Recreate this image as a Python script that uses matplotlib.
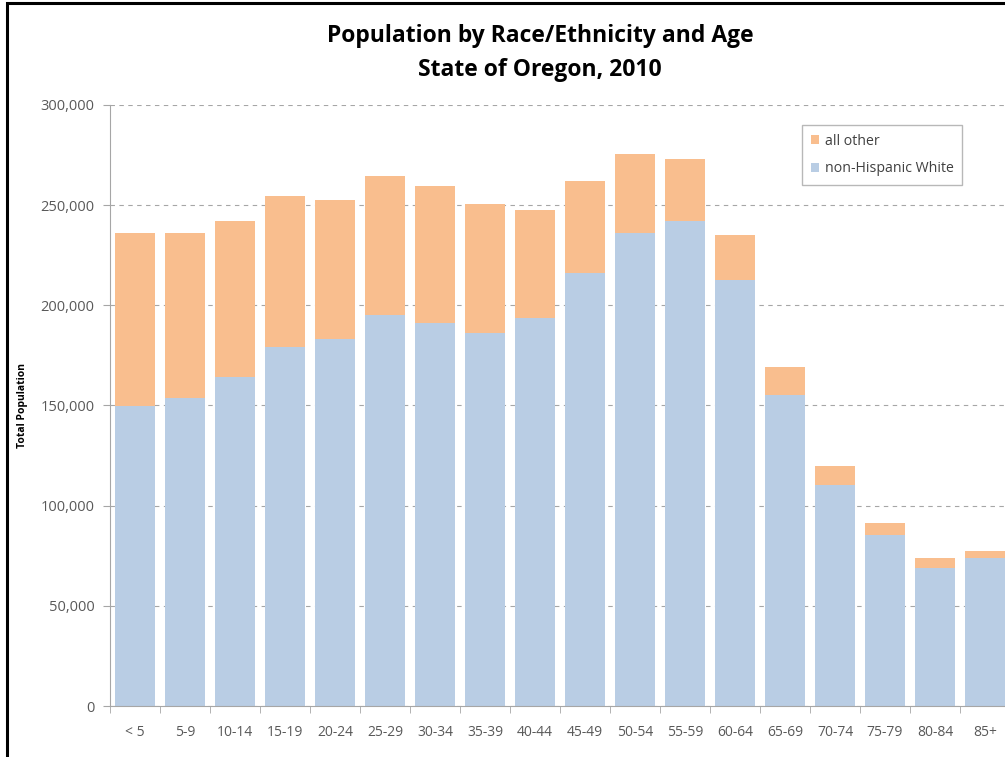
import matplotlib.pyplot as plt
from matplotlib.patches import Rectangle
from matplotlib.ticker import FuncFormatter

# Oregon 2010 population by age group
age_groups = ['< 5', '5-9', '10-14', '15-19', '20-24', '25-29', '30-34', '35-39', '40-44',
              '45-49', '50-54', '55-59', '60-64', '65-69', '70-74', '75-79', '80-84', '85+']
nh_white = [149800, 153700, 164200, 179200, 183200, 195200, 191200, 186200, 193700,
            216100, 236100, 242100, 212600, 155200, 110300, 85400, 68900, 73900]
total = [236100, 236100, 242100, 254600, 252600, 264600, 259600, 250600, 247600,
         262100, 275500, 273000, 235100, 169200, 119800, 91300, 73900, 77400]
all_other = [t - w for t, w in zip(total, nh_white)]

orange = '#F9BE8E'
blue = '#B9CDE4'
gray = '#595959'

plt.rcParams['font.family'] = ['Open Sans', 'DejaVu Sans']

fig = plt.figure(figsize=(10.05, 7.57), dpi=100)
ax = fig.add_axes([110 / 1005, 1 - 706 / 757, 900 / 1005, 601 / 757])

x = list(range(len(age_groups)))
ax.bar(x, nh_white, width=0.8, color=blue, label='non-Hispanic White', zorder=2)
ax.bar(x, all_other, width=0.8, bottom=nh_white, color=orange, label='all other', zorder=2)

ax.set_xlim(-0.5, len(age_groups) - 0.5)
ax.set_ylim(0, 300000)
ax.set_yticks(range(0, 300001, 50000))
ax.yaxis.set_major_formatter(FuncFormatter(lambda v, p: f'{int(v):,}'))
ax.grid(axis='y', linestyle=(0, (4, 4)), color='#A6A6A6', linewidth=0.8, zorder=0)

ax.set_xticks(x)
ax.set_xticklabels(age_groups)
ax.set_xticks([i + 0.5 for i in range(-1, len(age_groups))], minor=True)
ax.tick_params(axis='x', which='major', length=0, pad=14, labelsize=10, labelcolor=gray)
ax.tick_params(axis='x', which='minor', length=5, color='#A6A6A6', direction='out')
ax.tick_params(axis='y', length=5, color='#A6A6A6', labelsize=10.5, labelcolor=gray, pad=6)

for s in ['top', 'right']:
    ax.spines[s].set_visible(False)
ax.spines['left'].set_color('#A6A6A6')
ax.spines['bottom'].set_color('#A6A6A6')

ax.set_ylabel('Total Population', fontsize=7.5, fontweight='bold')
ax.yaxis.set_label_coords(-(110 - 28) / 900, 0.5)

handles, labels = ax.get_legend_handles_labels()
leg = ax.legend(handles[::-1], labels[::-1], loc='upper left',
                bbox_to_anchor=((795 - 110) / 900, (706 - 118) / 601),
                fontsize=10.2, frameon=True, fancybox=False, edgecolor='#A6A6A6',
                handlelength=0.6, handleheight=0.6, handletextpad=0.4,
                labelspacing=0.9, borderpad=0.6)
leg.get_frame().set_linewidth(1)
for t in leg.get_texts():
    t.set_color('#404040')

fig.text(540 / 1005, 1 - 53 / 757, 'Population by Race/Ethnicity and Age\nState of Oregon, 2010',
         ha='center', va='center', fontsize=16.5, fontweight='bold', linespacing=1.6)

# chart frame (cut off on the right and bottom)
fig.patches.append(Rectangle((7 / 1005, -0.1), 1.2, 1 - 3 / 757 + 0.1,
                             transform=fig.transFigure, fill=False,
                             edgecolor='black', linewidth=2.2))

fig.savefig('out.png', dpi=100)
